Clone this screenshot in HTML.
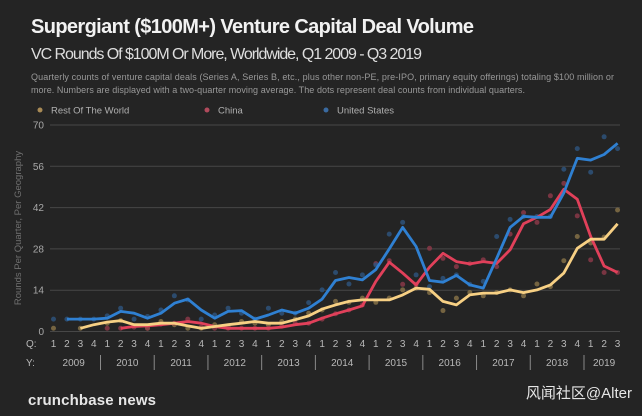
<!DOCTYPE html>
<html><head><meta charset="utf-8"><style>
body{margin:0;background:#242424;width:642px;height:416px;overflow:hidden;font-family:"Liberation Sans","Noto Sans CJK SC",sans-serif}
svg{display:block}
</style></head><body>
<svg id="c" width="642" height="416" xmlns="http://www.w3.org/2000/svg">
<rect width="642" height="416" fill="#242424"/>
<text x="31" y="33" fill="#f2f2f2" font-size="20" font-weight="bold" textLength="443">Supergiant ($100M+) Venture Capital Deal Volume</text>
<text x="31" y="59" fill="#dedede" font-size="16" textLength="391">VC Rounds Of $100M Or More, Worldwide, Q1 2009 - Q3 2019</text>
<text x="31" y="80" fill="#999" font-size="9" textLength="583">Quarterly counts of venture capital deals (Series A, Series B, etc., plus other non-PE, pre-IPO, primary equity offerings) totaling $100 million or</text>
<text x="31" y="93" fill="#999" font-size="9" textLength="494">more. Numbers are displayed with a two-quarter moving average. The dots represent deal counts from individual quarters.</text>
<g>
<circle cx="40" cy="110" r="2.5" fill="#a88a55"/>
<text x="51" y="113.5" fill="#b0b0b0" font-size="9.5">Rest Of The World</text>
<circle cx="207" cy="110" r="2.5" fill="#b04a5c"/>
<text x="218" y="113.5" fill="#b0b0b0" font-size="9.5">China</text>
<circle cx="326" cy="110" r="2.5" fill="#3a6aa0"/>
<text x="337" y="113.5" fill="#b0b0b0" font-size="9.5">United States</text>
</g>
<text transform="translate(21,228) rotate(-90)" text-anchor="middle" fill="#707070" font-size="9.5">Rounds Per Quarter, Per Geography</text>
<g id="grid"></g><g id="dots"></g><g id="lines"></g><g id="xaxis"></g>
<text x="28" y="405" fill="#e6e6e6" font-size="15" font-weight="bold" textLength="128">crunchbase news</text>
<text x="632" y="398" text-anchor="end" fill="#e6e6e6" font-size="15">风闻社区@Alter</text>
</svg>
<script>
const yTicks=[0,14,28,42,56,70];
const quarterLabels=["1","2","3","4"];
const years=["2009","2010","2011","2012","2013","2014","2015","2016","2017","2018","2019"];
const usAvg=[null,4.2,4.2,4.2,4.5,6.8,6.2,4.5,6.2,9.6,11,7.3,4.5,6.8,7.1,4.2,5.6,7.3,6.2,7.9,11,17.3,18.3,17.5,21,28,35.3,28.8,17.3,16.7,19,15.8,14.7,24.8,35.3,39,38.7,38.7,47,58.7,58.1,60,63.8];
const chinaAvg=[null,null,null,null,null,1.1,1.7,1.9,2.3,2.8,3.4,2.8,1.7,1.1,1.1,1.1,1.1,1.5,2.3,2.8,4.5,6,7.3,8.7,17,23.5,19.8,15.8,21.8,26.5,23.7,22.9,23.7,23.1,27.7,36.5,38.7,41.4,48.2,44.8,32.2,22.2,20];
const rowAvg=[null,null,1.1,2.3,3.2,3.7,2.3,2.3,2.8,2.8,1.9,1.1,1.7,2.3,2.8,3.4,2.8,2.8,4,5.3,7.6,9,10.2,10.7,10.7,10.7,12.4,14.7,14.3,10.2,9,12.4,13,13,14.1,13.2,14.1,15.8,19.8,28.2,31.3,31.3,36.5];
const usDots=[4.2,4.2,4.2,4.2,5.3,7.9,4.2,5.1,7.3,12.1,10.7,4.2,5.6,7.9,6.2,4.2,7.9,6.2,6.2,9.8,14.1,20,16.1,19.2,22.6,33,37,19.2,15.2,18,19.2,16,17,32.2,38,39,39,39,55,62,54,66,62];
const chinaDots=[null,null,null,null,1.1,1.1,1.5,1.1,2.5,2.8,4.2,1.5,1.1,1.1,1.1,1.1,1.1,1.8,2.8,2.8,4.2,6,7.3,9,23,24,16,16,28.2,24.8,22,23,24.3,22,33,40.3,37,46,50.2,39.2,24.3,20,20];
const rowDots=[1.1,null,1.1,null,2.8,3.7,null,1.1,3.4,2.3,1.1,1.1,2.3,1.7,3.4,2.8,2.3,3.4,4.2,6.2,7.3,10.2,9.9,11.3,9.9,11.3,14.1,14.7,13.2,7.1,11.3,13.2,12.1,13.2,14.1,12.1,16.1,15.2,24,32.2,30,32,41.2];
const NS="http://www.w3.org/2000/svg";
const x0=53.5,dx=13.43,yZero=331.5,yTop=125;
const xs=i=>x0+i*dx;
const ys=v=>yZero-(v/70)*(yZero-yTop);
function mk(t,a,p){const e=document.createElementNS(NS,t);for(const k in a)e.setAttribute(k,a[k]);p.appendChild(e);return e;}
const grid=document.getElementById('grid');
yTicks.forEach(v=>{
 const l=mk('line',{x1:50,x2:620,y1:ys(v),y2:ys(v),stroke:'#474747','stroke-width':1},grid);
 
 
 const t=mk('text',{x:44,y:ys(v)+3.5,'text-anchor':'end',fill:'#a8a8a8','font-size':10},grid);
 t.textContent=v;
 
 
});
const dots=document.getElementById('dots');
function drawDots(arr,col,name){arr.forEach((v,i)=>{if(v==null)return;
 const c=mk('circle',{cx:xs(i),cy:ys(v),r:2.5,fill:col,'fill-opacity':0.8},dots);
 
 });}
drawDots(rowDots,'#8a7448','row');
drawDots(chinaDots,'#8e3a4a','china');
drawDots(usDots,'#2e5580','us');
const lines=document.getElementById('lines');
function drawLine(arr,col,name){let d='';arr.forEach((v,i)=>{if(v==null)return;d+=(d?'L':'M')+xs(i).toFixed(1)+','+ys(v).toFixed(1);});
 const p=mk('path',{d:d,fill:'none',stroke:col,'stroke-width':2.8,'stroke-linejoin':'round'},lines);
 
 }
drawLine(chinaAvg,'#e1405a','china');
drawLine(usAvg,'#2f80d2','us');
drawLine(rowAvg,'#f7d084','row');
const xa=document.getElementById('xaxis');
const ql=mk('text',{x:26,y:347,fill:'#b8b8b8','font-size':10},xa);ql.textContent='Q:';


const yl=mk('text',{x:26,y:366,fill:'#b8b8b8','font-size':10},xa);yl.textContent='Y:';


for(let i=0;i<usDots.length;i++){
 const t=mk('text',{x:xs(i),y:347,'text-anchor':'middle',fill:'#b8b8b8','font-size':10},xa);
 t.textContent=quarterLabels[i%4];
 
 
}
years.forEach((y,k)=>{
 const s=k*4,e=Math.min(s+3,usDots.length-1);
 const t=mk('text',{x:(xs(s)+xs(e))/2,y:366,'text-anchor':'middle',fill:'#b8b8b8','font-size':10},xa);
 t.textContent=y;
 
 
 if(k>0){const sx=(xs(s-1)+xs(s))/2;
  const l=mk('line',{x1:sx,x2:sx,y1:355,y2:370,stroke:'#8a8a8a','stroke-width':1},xa);
  
  }
});
</script>
</body></html>
